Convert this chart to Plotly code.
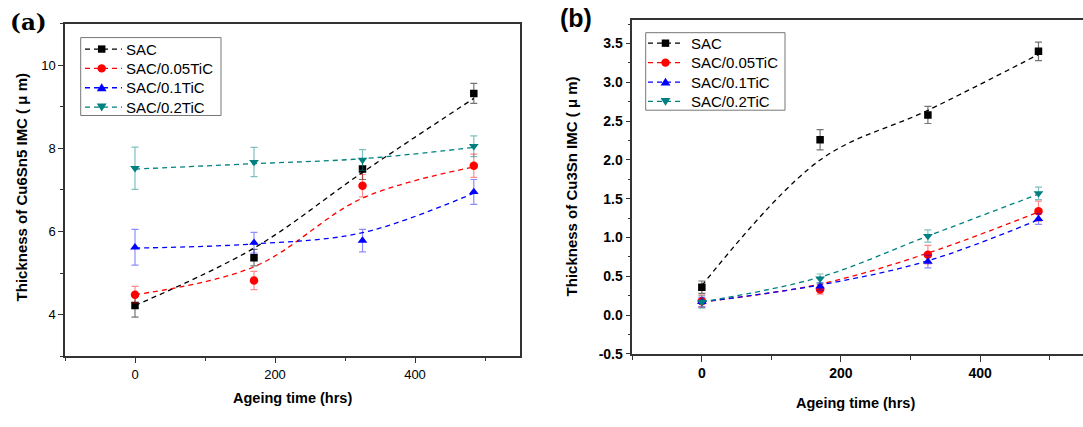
import plotly.graph_objects as go

W, H = 1083, 427

names = ["SAC", "SAC/0.05TiC", "SAC/0.1TiC", "SAC/0.2TiC"]
colors = ["#000000", "#FF0000", "#0000FF", "#008080"]
err_colors = ["rgba(0,0,0,0.55)", "rgba(255,0,0,0.45)", "rgba(0,0,255,0.45)", "rgba(0,128,128,0.5)"]
symbols = ["square", "circle", "triangle-up", "triangle-down"]
msizes = [7.5, 8.5, 8.5, 8.5]

hours = [0, 170, 325, 484]

# Panel (a) Cu6Sn5 thickness (um)
a_vals = [
    [4.22, 5.37, 7.50, 9.32],
    [4.48, 4.82, 7.10, 7.58],
    [5.62, 5.73, 5.78, 6.95],
    [7.52, 7.67, 7.72, 8.05],
]
a_err = [
    [0.28, 0.20, 0.25, 0.24],
    [0.20, 0.22, 0.27, 0.28],
    [0.43, 0.25, 0.27, 0.30],
    [0.51, 0.35, 0.25, 0.25],
]
a_fit = [
    [4.22, 5.60, 7.42, 9.20],
    [4.48, 5.15, 6.80, 7.55],
    [5.60, 5.70, 5.97, 6.92],
    [7.50, 7.63, 7.75, 8.02],
]

# Panel (b) Cu3Sn thickness (um)
b_vals = [
    [0.36, 2.26, 2.58, 3.40],
    [0.18, 0.33, 0.78, 1.34],
    [0.17, 0.37, 0.69, 1.24],
    [0.17, 0.47, 1.02, 1.57],
]
b_err = [
    [0.08, 0.13, 0.11, 0.12],
    [0.08, 0.06, 0.12, 0.13],
    [0.06, 0.05, 0.08, 0.07],
    [0.08, 0.06, 0.08, 0.08],
]
b_fit = [
    [0.38, 2.00, 2.64, 3.36],
    [0.17, 0.40, 0.80, 1.33],
    [0.17, 0.39, 0.70, 1.23],
    [0.17, 0.49, 1.02, 1.56],
]

fig = go.Figure()
DASH = "5px,4px"

def add_panel(vals, errs, fits, xa, ya):
    for i in range(4):
        fig.add_trace(go.Scatter(
            x=hours, y=fits[i], mode="lines", line=dict(color=colors[i], width=1.3, dash=DASH, shape="spline"),
            xaxis=xa, yaxis=ya, showlegend=False, hoverinfo="skip"))
    for i in range(4):
        fig.add_trace(go.Scatter(
            x=hours, y=vals[i], mode="markers", name=names[i],
            marker=dict(symbol=symbols[i], size=msizes[i], color=colors[i], line=dict(width=0)),
            error_y=dict(type="data", array=errs[i], visible=True, color=err_colors[i], thickness=1.2, width=3.5),
            xaxis=xa, yaxis=ya, showlegend=False))

add_panel(a_vals, a_err, a_fit, "x", "y")
add_panel(b_vals, b_err, b_fit, "x2", "y2")

def px_x(p):
    return p / W

def px_y(p):
    return 1 - p / H

axcol = "#333333"
font_family = "Liberation Sans, Arial, sans-serif"

fig.update_layout(
    width=W, height=H, margin=dict(l=0, r=0, t=0, b=0),
    paper_bgcolor="white", plot_bgcolor="white",
    font=dict(family=font_family, color="black"),
    showlegend=False,
    xaxis=dict(domain=[px_x(65), px_x(520)], range=[-100, 550], anchor="y",
               tickvals=[0, 200, 400], ticks="outside", ticklen=5, tickwidth=1.3, tickcolor=axcol,
               minor=dict(tickvals=[-100, 100, 300, 500], ticks="outside", ticklen=3, tickwidth=1.3, tickcolor=axcol),
               showline=True, linecolor=axcol, linewidth=1.5, mirror=True, showgrid=False, zeroline=False,
               tickfont=dict(size=13, family=font_family)),
    yaxis=dict(domain=[px_y(363), px_y(24)], range=[3, 11], anchor="x",
               tickvals=[4, 6, 8, 10], ticks="outside", ticklen=5, tickwidth=1.3, tickcolor=axcol,
               minor=dict(tickvals=[3, 5, 7, 9, 11], ticks="outside", ticklen=3, tickwidth=1.3, tickcolor=axcol),
               showline=True, linecolor=axcol, linewidth=1.5, mirror=True, showgrid=False, zeroline=False,
               tickfont=dict(size=13, family=font_family)),
    xaxis2=dict(domain=[px_x(632.3), 1.0], range=[-100, 548], anchor="y2",
                tickvals=[0, 200, 400], ticks="outside", ticklen=6, tickwidth=1.3, tickcolor=axcol,
                minor=dict(tickvals=[-100, 100, 300, 500], ticks="outside", ticklen=4, tickwidth=1.3, tickcolor=axcol),
                showline=True, linecolor=axcol, linewidth=1.5, mirror=True, showgrid=False, zeroline=False,
                tickfont=dict(size=14, family=font_family, weight="bold")),
    yaxis2=dict(domain=[px_y(360.7), px_y(20.7)], range=[-0.5, 3.8], anchor="x2",
                tickvals=[-0.5, 0, 0.5, 1, 1.5, 2, 2.5, 3, 3.5],
                ticktext=["-0.5", "0.0", "0.5", "1.0", "1.5", "2.0", "2.5", "3.0", "3.5"],
                ticks="outside", ticklen=5, tickwidth=1.3, tickcolor=axcol,
                minor=dict(tickvals=[-0.25, 0.25, 0.75, 1.25, 1.75, 2.25, 2.75, 3.25, 3.75],
                           ticks="outside", ticklen=3, tickwidth=1.3, tickcolor=axcol),
                showline=True, linecolor=axcol, linewidth=1.5, mirror=False, showgrid=False, zeroline=False,
                tickfont=dict(size=14, family=font_family, weight="bold")),
)

def A(text, x, y, size, family=font_family, angle=0, xanchor="center", color="black"):
    return dict(text=text, x=px_x(x), y=px_y(y), xref="paper", yref="paper",
                xanchor=xanchor, yanchor="middle", showarrow=False, textangle=angle,
                font=dict(size=size, family=family, color=color))

ann = [
    A("<b>Ageing time (hrs)</b>", 292.5, 406, 14.5),
    A("<b>Thickness of Cu6Sn5 IMC ( μ m)</b>", 21.5, 191.5, 15, angle=-90),
    A("<b>Ageing time (hrs)</b>", 855, 411, 14.5),
    A("<b>Thickness of Cu3Sn IMC ( μ m)</b>", 571, 190, 15, angle=-90),
    A("<b>(a)</b>", 28, 22, 23, family="DejaVu Serif, Liberation Serif, serif"),
    A("<b>(b)</b>", 576, 18, 25),
]

shapes = []

def marker_shape(kind, cx, cy, color, s):
    h = s / 2.0
    if kind == "square":
        return dict(type="rect", xref="paper", yref="paper",
                    x0=px_x(cx - h), x1=px_x(cx + h), y0=px_y(cy + h), y1=px_y(cy - h),
                    fillcolor=color, line=dict(width=0))
    if kind == "circle":
        return dict(type="circle", xref="paper", yref="paper",
                    x0=px_x(cx - h), x1=px_x(cx + h), y0=px_y(cy + h), y1=px_y(cy - h),
                    fillcolor=color, line=dict(width=0))
    w = s * 0.58
    if kind == "triangle-up":
        pts = [(cx - w, cy + h * 0.85), (cx + w, cy + h * 0.85), (cx, cy - h * 1.05)]
    else:
        pts = [(cx - w, cy - h * 0.85), (cx + w, cy - h * 0.85), (cx, cy + h * 1.05)]
    path = "M {} {} L {} {} L {} {} Z".format(*[v for p in pts for v in (px_x(p[0]), px_y(p[1]))])
    return dict(type="path", xref="paper", yref="paper", path=path, fillcolor=color, line=dict(width=0))

def legend_box(x0, x1, y0, y1, rows, lx0, lx1, mx, tx):
    shapes.append(dict(type="rect", xref="paper", yref="paper", x0=px_x(x0), x1=px_x(x1),
                       y0=px_y(y1), y1=px_y(y0), line=dict(color="#777777", width=1), fillcolor="white",
                       layer="above"))
    for i, ry in enumerate(rows):
        shapes.append(dict(type="line", xref="paper", yref="paper", x0=px_x(lx0), x1=px_x(lx1),
                           y0=px_y(ry), y1=px_y(ry), line=dict(color=colors[i], width=1.3, dash=DASH),
                           layer="above"))
        ms = marker_shape(symbols[i], mx, ry, colors[i], msizes[i])
        ms["layer"] = "above"
        shapes.append(ms)
        ann.append(A(names[i], tx, ry, 15, xanchor="left"))

legend_box(80.7, 221, 38.3, 117.7, [50, 69.7, 89.4, 109.1], 85, 122, 101.7, 124)
legend_box(645.7, 785, 33.3, 112.3, [44, 63.8, 83.6, 103.4], 648, 680, 665.5, 689)

fig.update_layout(annotations=ann, shapes=shapes)

fig.write_html("out.html", config={"displayModeBar": False},
               post_script="document.body.style.margin='0';document.body.style.overflow='hidden';")
